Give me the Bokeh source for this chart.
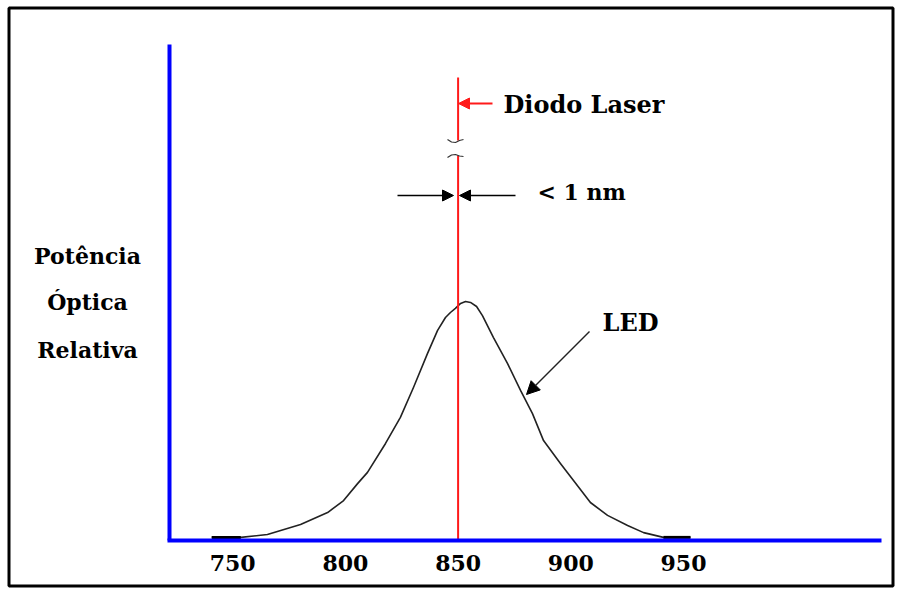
from bokeh.plotting import figure
from bokeh.models import Range1d, FixedTicker, Label, Arrow, NormalHead
from bokeh.embed import file_html
from bokeh.resources import INLINE

# ---- data ----
wavelength_nm = [740.7, 753.6, 765.4, 780.1, 792.1, 799.2, 805.4, 809.8, 817.8, 824.4,
                 830.2, 836.4, 840.9, 844.4, 846.6, 848.8, 851.1, 853.3, 855.5, 858.2,
                 860.8, 865.7, 871.9, 877.7, 883.0, 887.9, 895.4, 901.2, 908.7, 916.3,
                 925.2, 932.3, 941.1, 953.1]
led_power = [0.013, 0.013, 0.025, 0.067, 0.117, 0.167, 0.238, 0.285, 0.406, 0.515,
             0.640, 0.782, 0.879, 0.933, 0.954, 0.971, 0.992, 1.000, 0.996, 0.979,
             0.941, 0.849, 0.741, 0.628, 0.531, 0.418, 0.322, 0.251, 0.159, 0.105,
             0.063, 0.033, 0.013, 0.013]
laser_nm = 850
x_ticks = [750, 800, 850, 900, 950]
y_labels = ["Potência", "Óptica", "Relativa"]

# ---- layout helpers (picture pixel -> data) ----
W, H = 895, 588

def xd(px):
    return 850 + (px - 457.6) / 2.254

def yd(py):
    return (540 - py) / 239.0

FONT = "DejaVu Serif"

p = figure(width=W, height=H, output_backend="svg", toolbar_location=None,
           x_range=Range1d(xd(0), xd(W)), y_range=Range1d(yd(H), yd(0)),
           min_border=0, min_border_left=0, min_border_right=0,
           min_border_top=0, min_border_bottom=0,
           background_fill_color="white", border_fill_color="white")
p.outline_line_color = None
p.grid.visible = False

# axes (drawn inside the frame at fixed positions)
p.xaxis.fixed_location = 0
p.xaxis.bounds = (xd(167), xd(881))
p.xaxis.ticker = FixedTicker(ticks=x_ticks)
p.xaxis.axis_line_color = "#0000ff"
p.xaxis.axis_line_width = 4
p.xaxis.major_tick_line_color = None
p.xaxis.minor_tick_line_color = None
p.xaxis.major_tick_out = 0
p.xaxis.major_tick_in = 0
p.xaxis.major_label_standoff = 14
p.xaxis.major_label_text_font = FONT
p.xaxis.major_label_text_font_style = "bold"
p.xaxis.major_label_text_font_size = "22px"
p.xaxis.major_label_text_color = "black"

p.yaxis.fixed_location = xd(169)
p.yaxis.bounds = (0, yd(44))
p.yaxis.axis_line_color = "#0000ff"
p.yaxis.axis_line_width = 4
p.yaxis.major_tick_line_color = None
p.yaxis.minor_tick_line_color = None
p.yaxis.major_tick_out = 0
p.yaxis.major_tick_in = 0
p.yaxis.major_label_text_color = None
p.yaxis.major_label_text_font_size = "1px"

# outer border of the picture
p.quad(left=[xd(8.5)], right=[xd(892.5)], top=[yd(7.5)], bottom=[yd(585.5)],
       fill_color=None, line_color="black", line_width=3)

# LED curve
p.line(wavelength_nm, led_power, line_color="#222222", line_width=1.6, line_join="round")
p.line(wavelength_nm[:2], led_power[:2], line_color="black", line_width=3)
p.line(wavelength_nm[-2:], led_power[-2:], line_color="black", line_width=3)

# laser line with break
p.segment(x0=[laser_nm, laser_nm], y0=[0, yd(140)], x1=[laser_nm, laser_nm], y1=[yd(155), yd(77)],
          line_color="#ff1a1a", line_width=2)
# break marks
p.line([xd(v) for v in (447, 451, 455, 459, 463)], [yd(v) for v in (139, 141.5, 142, 140, 139)],
       line_color="#333333", line_width=1.2)
p.line([xd(v) for v in (447, 451, 455, 459, 463)], [yd(v) for v in (157, 154.5, 154, 155.5, 156)],
       line_color="#333333", line_width=1.2)

# arrows
p.add_layout(Arrow(x_start=xd(492), y_start=yd(103), x_end=xd(458), y_end=yd(103),
                   line_color="#ff1a1a", line_width=2,
                   end=NormalHead(size=11, fill_color="#ff1a1a", line_color="#ff1a1a")))
p.add_layout(Arrow(x_start=xd(397), y_start=yd(195), x_end=xd(453), y_end=yd(195),
                   line_color="black", line_width=1.5,
                   end=NormalHead(size=11, fill_color="black", line_color="black")))
p.add_layout(Arrow(x_start=xd(515), y_start=yd(195), x_end=xd(459), y_end=yd(195),
                   line_color="black", line_width=1.5,
                   end=NormalHead(size=11, fill_color="black", line_color="black")))
p.add_layout(Arrow(x_start=xd(589), y_start=yd(331), x_end=xd(526), y_end=yd(394),
                   line_color="#222222", line_width=1.5,
                   end=NormalHead(size=13, fill_color="black", line_color="black")))

def lab(text, px, py, size, align="left"):
    p.add_layout(Label(x=xd(px), y=yd(py), text=text, text_font=FONT, text_font_style="bold",
                       text_font_size=size, text_color="black", text_align=align,
                       text_baseline="middle"))

lab("Diodo Laser", 503, 104, "24px")
lab("< 1 nm", 537, 191, "22px")
lab("LED", 602, 322, "24px")
for t, py in zip(y_labels, [255, 301, 349]):
    lab(t, 87, py, "22px", align="center")

open("out.html", "w").write(file_html(p, INLINE))
